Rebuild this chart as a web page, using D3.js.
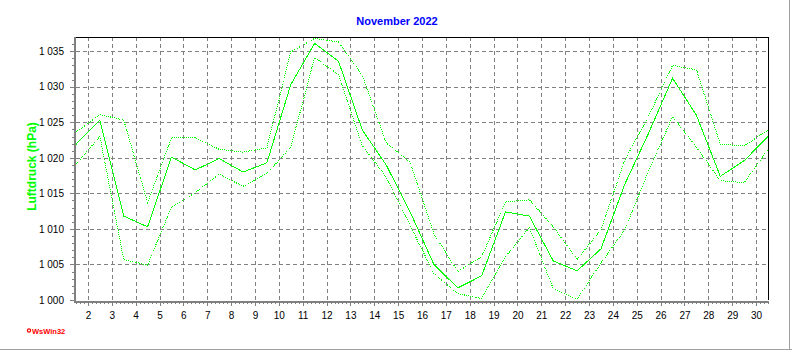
<!DOCTYPE html>
<html>
<head>
<meta charset="utf-8">
<script src="https://cdn.jsdelivr.net/npm/d3@7"></script>
<style>
  html, body { margin: 0; padding: 0; background: #fff; }
  svg { display: block; }
  text { font-family: Arial, "Liberation Sans", sans-serif; }
</style>
</head>
<body>
<svg id="chart" width="792" height="350"></svg>
<script>
// Daily air pressure, November 2022 (hPa): mean, maximum and minimum
const days = d3.range(1, 31);
const pMean = [1021.9, 1025.3, 1011.8, 1010.3, 1020.1, 1018.3, 1019.9, 1018.0, 1019.3, 1030.3,
               1036.1, 1033.6, 1023.9, 1019.0, 1012.4, 1005.0, 1001.7, 1003.4, 1012.4, 1011.8,
               1005.5, 1004.1, 1007.2, 1016.3, 1023.5, 1031.2, 1026.0, 1017.4, 1019.6, 1023.0];
const pMax  = [1023.6, 1026.1, 1025.3, 1013.7, 1022.8, 1022.8, 1021.2, 1020.8, 1021.4, 1034.9,
               1036.8, 1036.3, 1031.6, 1022.1, 1019.4, 1009.3, 1004.0, 1006.1, 1013.8, 1014.1,
               1010.3, 1005.7, 1009.9, 1019.7, 1025.9, 1033.0, 1032.4, 1021.9, 1021.7, 1023.9];
const pMin  = [1019.1, 1023.0, 1005.7, 1004.9, 1013.1, 1015.1, 1017.7, 1016.0, 1017.8, 1021.5,
               1034.1, 1031.7, 1021.7, 1017.3, 1010.5, 1003.7, 1000.9, 1000.2, 1006.1, 1010.2,
               1001.6, 1000.1, 1005.2, 1009.9, 1018.2, 1025.8, 1021.5, 1016.8, 1016.5, 1021.2];

// Axis tick labels
const xTickDays = d3.range(2, 31);
const yTicks = [1000, 1005, 1010, 1015, 1020, 1025, 1030, 1035];

const titleText = "November 2022";
const yLabel = "Luftdruck (hPa)";
const creditText = "WsWin32";

const svg = d3.select("#chart");
const W = 792, H = 350;
const plot = { left: 76, right: 768, top: 37, bottom: 300 };

// Daily values are placed at midday of each day
const x = d3.scaleLinear().domain([1.5, 30.5]).range([plot.left, plot.right]);
const y = d3.scaleLinear().domain([1000, 1037]).range([plot.bottom, plot.top]);

const fmt = d3.formatLocale({ decimal: ",", thousands: " ", grouping: [3], currency: ["", ""] }).format(",d");

// Outer frame edge
svg.append("line").attr("x1", 0).attr("x2", W).attr("y1", 349.5).attr("y2", 349.5)
  .attr("stroke", "#a0a0a0");
svg.append("line").attr("x1", 789.5).attr("x2", 789.5).attr("y1", 0).attr("y2", H)
  .attr("stroke", "#a0a0a0");

// Grid
const grid = svg.append("g").attr("shape-rendering", "crispEdges")
  .attr("stroke", "#808080").attr("stroke-dasharray", "4,3");
grid.selectAll("line.v").data(xTickDays).join("line").attr("class", "v")
  .attr("x1", d => Math.round(x(d)) + 0.5).attr("x2", d => Math.round(x(d)) + 0.5)
  .attr("y1", plot.top).attr("y2", plot.bottom);
grid.selectAll("line.h").data(yTicks.filter(v => v > 1000)).join("line").attr("class", "h")
  .attr("y1", d => Math.round(y(d)) + 0.5).attr("y2", d => Math.round(y(d)) + 0.5)
  .attr("x1", plot.left).attr("x2", plot.right);

// Top and right border
svg.append("path").attr("shape-rendering", "crispEdges")
  .attr("d", `M${plot.left},${plot.top + 0.5}H${plot.right + 0.5}V${plot.bottom}`)
  .attr("fill", "none").attr("stroke", "#000");

// Y axis with 1 hPa minor ticks
const yAxis = d3.axisLeft(y).tickValues(yTicks).tickFormat(fmt).tickSize(4).tickPadding(6);
const gy = svg.append("g").attr("transform", `translate(${plot.left - 2},0)`)
  .attr("shape-rendering", "crispEdges").call(yAxis);
gy.select(".domain").remove();
gy.selectAll(".tick line").attr("stroke", "#808080");
gy.selectAll(".tick text").attr("font-size", 10).attr("fill", "#000")
  .attr("font-family", "Arial, 'Liberation Sans', sans-serif");
const yMinor = d3.range(1001, 1037).filter(v => v % 5 !== 0);
gy.selectAll("line.minor").data(yMinor).join("line").attr("class", "minor")
  .attr("x1", -2).attr("x2", 0)
  .attr("y1", d => Math.round(y(d)) + 0.5).attr("y2", d => Math.round(y(d)) + 0.5)
  .attr("stroke", "#808080");

// X axis with 4-hour minor ticks
const xAxis = d3.axisBottom(x).tickValues(xTickDays).tickFormat(d3.format("d")).tickSize(4).tickPadding(6);
const gx = svg.append("g").attr("transform", `translate(0,${plot.bottom + 2})`)
  .attr("shape-rendering", "crispEdges").call(xAxis);
gx.select(".domain").remove();
gx.selectAll(".tick line").attr("stroke", "#808080");
gx.selectAll(".tick text").attr("font-size", 10).attr("fill", "#000")
  .attr("font-family", "Arial, 'Liberation Sans', sans-serif");
const xMinor = d3.range(1.5 * 6, 30.5 * 6 + 1).map(k => k / 6).filter(v => Math.abs(v - Math.round(v)) > 1e-6 || v < 2);
gx.selectAll("line.minor").data(xMinor).join("line").attr("class", "minor")
  .attr("x1", d => Math.round(x(d)) + 0.5).attr("x2", d => Math.round(x(d)) + 0.5)
  .attr("y1", 0).attr("y2", 2).attr("stroke", "#808080");

// Thick left and bottom axis lines
svg.append("rect").attr("x", plot.left - 2).attr("y", plot.top).attr("width", 2)
  .attr("height", plot.bottom - plot.top + 3).attr("fill", "#808080");
svg.append("rect").attr("x", plot.left - 2).attr("y", plot.bottom + 1).attr("width", plot.right - plot.left + 3)
  .attr("height", 2).attr("fill", "#808080");

// Pressure curves, drawn without anti-aliasing
const line = d3.line().x((d, i) => x(days[i] + 0.5)).y(d => y(d));
const green = "#00ff00";
const curves = svg.append("g").attr("fill", "none").attr("stroke", green)
  .attr("shape-rendering", "crispEdges");
curves.append("path").datum(pMax).attr("d", line)
  .attr("stroke-width", 1).attr("stroke-dasharray", "1,1");
curves.append("path").datum(pMin).attr("d", line)
  .attr("stroke-width", 1).attr("stroke-dasharray", "1,1");
curves.append("path").datum(pMean).attr("d", line)
  .attr("stroke-width", 1);

// Title
svg.append("text").attr("x", 397).attr("y", 25).attr("text-anchor", "middle")
  .attr("font-size", 11).attr("font-weight", "bold").attr("fill", "#0000ff").text(titleText);

// Y axis title
svg.append("text").attr("transform", `translate(36,${(plot.top + plot.bottom) / 2 - 2})rotate(-90)`)
  .attr("text-anchor", "middle").attr("font-size", 12).attr("font-weight", "bold")
  .attr("fill", green).text(yLabel);

// Credit mark
svg.append("circle").attr("cx", 29).attr("cy", 330.5).attr("r", 1.6)
  .attr("fill", "none").attr("stroke", "#ff0000").attr("stroke-width", 1.2);
svg.append("text").attr("x", 32).attr("y", 333.5).attr("font-size", 7.5).attr("font-weight", "bold")
  .attr("fill", "#ff0000").text(creditText);
</script>
</body>
</html>
